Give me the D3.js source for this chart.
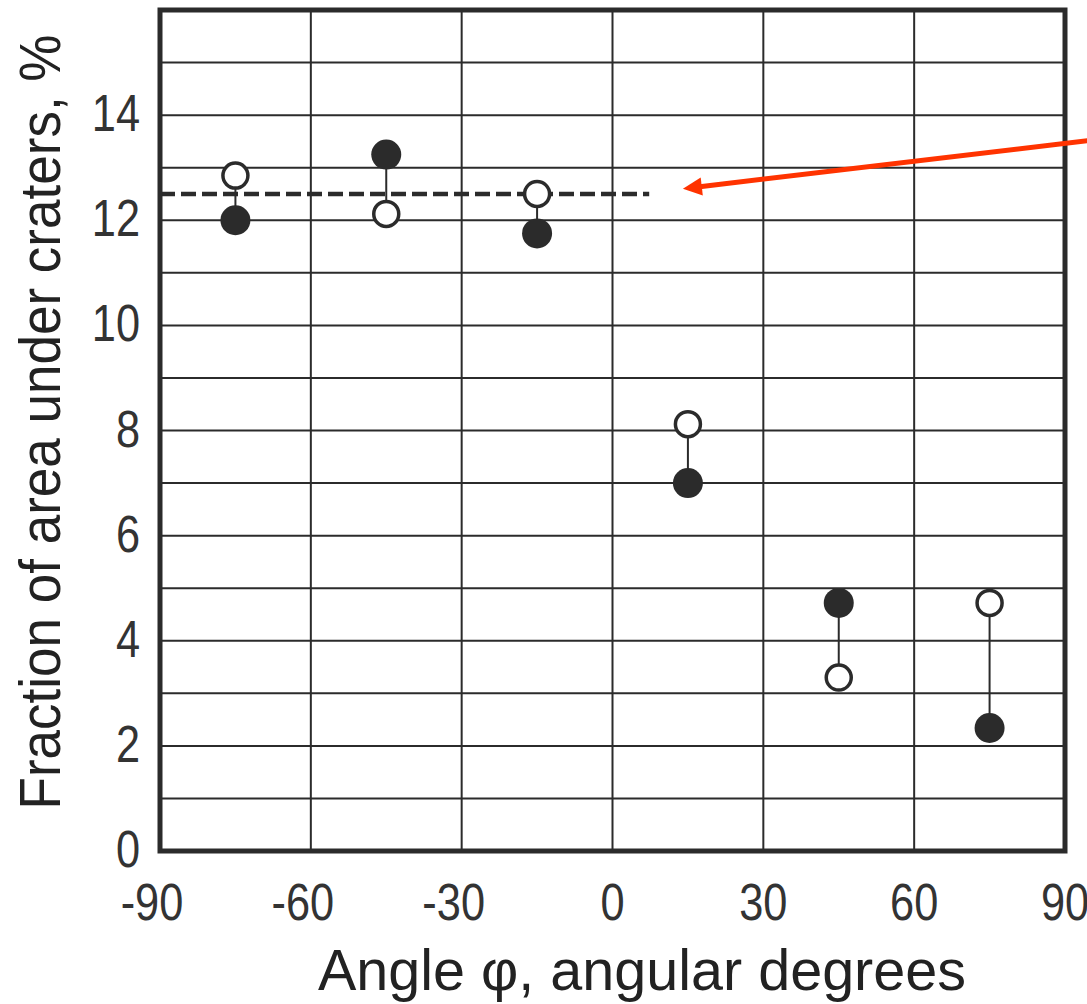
<!DOCTYPE html>
<html>
<head>
<meta charset="utf-8">
<script src="https://cdn.jsdelivr.net/npm/d3@7"></script>
<style>
  body { margin: 0; background: #fff; }
  svg text { font-family: "Liberation Sans", Arial, sans-serif; }
</style>
</head>
<body>
<svg id="chart" width="1087" height="1004"></svg>
<script>
// Data
var angles = [-75, -45, -15, 15, 45, 75];
var openValues = [12.85, 12.12, 12.5, 8.12, 3.3, 4.72];
var filledValues = [12.0, 13.25, 11.75, 7.0, 4.72, 2.34];
var xTicks = [-90, -60, -30, 0, 30, 60, 90];
var yTicks = [0, 2, 4, 6, 8, 10, 12, 14];
var meanLevel = 12.5;      // dashed line
var meanRange = [-90, 7.3];
var arrowFrom = [95, 13.52];
var arrowTo = [14.0, 12.6];

function makeCraterChart(id) {
    var svg = d3.select("#" + id);
    var plotLeft = 160, plotRight = 1065, plotTop = 10, plotBottom = 851;

    var x = d3.scaleLinear().domain([-90, 90]).range([plotLeft, plotRight]);
    var y = d3.scaleLinear().domain([0, 16]).range([plotBottom, plotTop]);

    var ink = "#2b2b2b";

    // Grid
    svg.append("g").selectAll("line").data(d3.range(1, 16))
        .join("line")
        .attr("x1", plotLeft).attr("x2", plotRight)
        .attr("y1", function(d) { return y(d); }).attr("y2", function(d) { return y(d); })
        .attr("stroke", ink).attr("stroke-width", 2);
    svg.append("g").selectAll("line").data(xTicks.slice(1, -1))
        .join("line")
        .attr("y1", plotTop).attr("y2", plotBottom)
        .attr("x1", function(d) { return x(d); }).attr("x2", function(d) { return x(d); })
        .attr("stroke", ink).attr("stroke-width", 2);

    // Dashed mean line
    svg.append("line")
        .attr("x1", x(meanRange[0])).attr("x2", x(meanRange[1]))
        .attr("y1", y(meanLevel)).attr("y2", y(meanLevel))
        .attr("stroke", ink).attr("stroke-width", 4.5)
        .attr("stroke-dasharray", "15 6");

    // Pairs of open / filled points
    var pairs = angles.map(function(a, i) { return {a: a, open: openValues[i], filled: filledValues[i]}; });
    svg.append("g").selectAll("line").data(pairs)
        .join("line")
        .attr("x1", function(d) { return x(d.a); }).attr("x2", function(d) { return x(d.a); })
        .attr("y1", function(d) { return y(d.open); }).attr("y2", function(d) { return y(d.filled); })
        .attr("stroke", ink).attr("stroke-width", 2);
    svg.append("g").selectAll("circle").data(pairs)
        .join("circle")
        .attr("cx", function(d) { return x(d.a); })
        .attr("cy", function(d) { return y(d.filled); })
        .attr("r", 15)
        .attr("fill", ink);
    svg.append("g").selectAll("circle").data(pairs)
        .join("circle")
        .attr("cx", function(d) { return x(d.a); })
        .attr("cy", function(d) { return y(d.open); })
        .attr("r", 12.5)
        .attr("fill", "#fff")
        .attr("stroke", ink).attr("stroke-width", 3.5);

    // Frame
    svg.append("rect")
        .attr("x", plotLeft).attr("y", plotTop)
        .attr("width", plotRight - plotLeft).attr("height", plotBottom - plotTop)
        .attr("fill", "none").attr("stroke", ink).attr("stroke-width", 5);

    // Tick labels (narrow, like the original)
    var sx = 0.85;
    svg.append("g").selectAll("text").data(yTicks)
        .join("text")
        .attr("transform", function(d) { return "translate(140," + (y(d) + 16) + ") scale(" + sx + ",1)"; })
        .attr("text-anchor", "end")
        .attr("font-size", 51)
        .attr("fill", "#333")
        .text(function(d) { return d; });
    svg.append("g").selectAll("text").data(xTicks)
        .join("text")
        .attr("transform", function(d) { return "translate(" + (x(d) - (d < 0 ? 8 : 0)) + ",920) scale(" + sx + ",1)"; })
        .attr("text-anchor", "middle")
        .attr("font-size", 51)
        .attr("fill", "#333")
        .text(function(d) { return d; });

    // Axis titles
    svg.append("text")
        .attr("x", 642).attr("y", 990)
        .attr("text-anchor", "middle")
        .attr("font-size", 58)
        .attr("fill", "#222")
        .attr("textLength", 648).attr("lengthAdjust", "spacingAndGlyphs")
        .text("Angle \u03c6, angular degrees");
    svg.append("text")
        .attr("transform", "translate(60,422) rotate(-90)")
        .attr("text-anchor", "middle")
        .attr("font-size", 58)
        .attr("fill", "#222")
        .attr("textLength", 775).attr("lengthAdjust", "spacingAndGlyphs")
        .text("Fraction of area under craters, %");

    // Red arrow
    var red = "#ff3300";
    var p0 = [x(arrowFrom[0]), y(arrowFrom[1])], p1 = [x(arrowTo[0]), y(arrowTo[1])];
    var dx = p1[0] - p0[0], dy = p1[1] - p0[1], len = Math.sqrt(dx * dx + dy * dy);
    var ux = dx / len, uy = dy / len, headLen = 19, headW = 9;
    var base = [p1[0] - ux * headLen, p1[1] - uy * headLen];
    svg.append("line")
        .attr("x1", p0[0]).attr("y1", p0[1])
        .attr("x2", base[0] + ux * 2).attr("y2", base[1] + uy * 2)
        .attr("stroke", red).attr("stroke-width", 5);
    svg.append("polygon")
        .attr("points", [p1, [base[0] - uy * headW, base[1] + ux * headW], [base[0] + uy * headW, base[1] - ux * headW]]
            .map(function(p) { return p.join(","); }).join(" "))
        .attr("fill", red);
}

makeCraterChart("chart");
</script>
</body>
</html>
